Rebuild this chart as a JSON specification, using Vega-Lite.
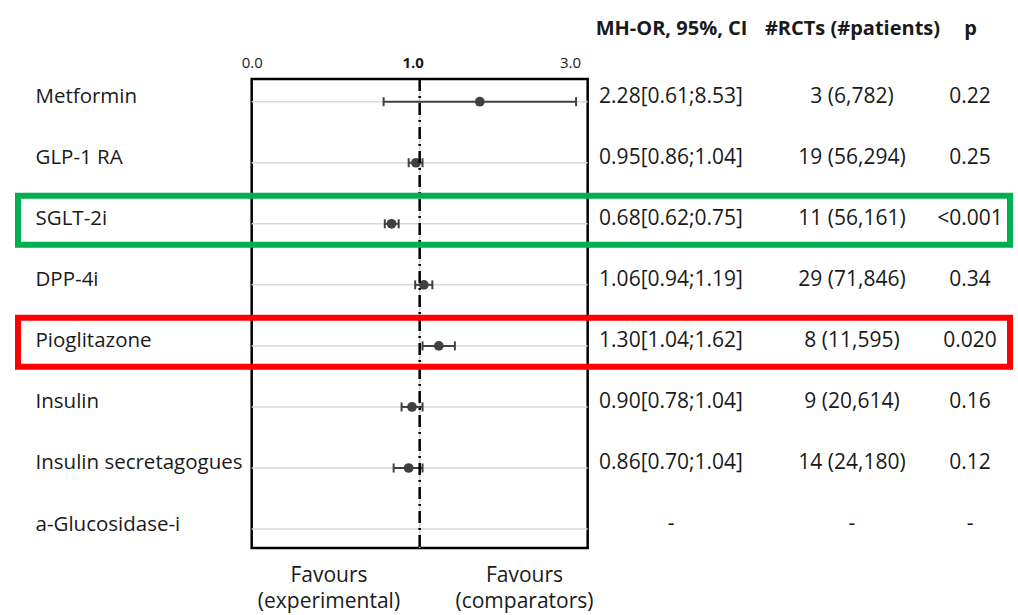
{
  "$schema": "https://vega.github.io/schema/vega-lite/v6.json",
  "width": 992,
  "height": 469,
  "autosize": {"type": "none"},
  "padding": {"left": 18, "top": 79, "right": 8, "bottom": 67},
  "background": "white",
  "config": {
    "font": "Open Sans",
    "view": {"stroke": null},
    "axis": {"labelFont": "Open Sans", "labelColor": "#1a1a1a", "grid": false, "domain": false, "ticks": false, "tickSize": 0, "title": null},
    "text": {"font": "Open Sans", "color": "#1a1a1a"}
  },
  "datasets": {
    "trials": [
      {"drug": "Metformin", "or": 2.28, "lo": 0.61, "hi": 8.53, "rcts": "3 (6,782)", "p": "0.22"},
      {"drug": "GLP-1 RA", "or": 0.95, "lo": 0.86, "hi": 1.04, "rcts": "19 (56,294)", "p": "0.25"},
      {"drug": "SGLT-2i", "or": 0.68, "lo": 0.62, "hi": 0.75, "rcts": "11 (56,161)", "p": "<0.001"},
      {"drug": "DPP-4i", "or": 1.06, "lo": 0.94, "hi": 1.19, "rcts": "29 (71,846)", "p": "0.34"},
      {"drug": "Pioglitazone", "or": 1.30, "lo": 1.04, "hi": 1.62, "rcts": "8 (11,595)", "p": "0.020"},
      {"drug": "Insulin", "or": 0.90, "lo": 0.78, "hi": 1.04, "rcts": "9 (20,614)", "p": "0.16"},
      {"drug": "Insulin secretagogues", "or": 0.86, "lo": 0.70, "hi": 1.04, "rcts": "14 (24,180)", "p": "0.12"},
      {"drug": "a-Glucosidase-i", "or": null, "lo": null, "hi": null, "rcts": "-", "p": "-"}
    ]
  },
  "resolve": {"scale": {"x": "independent"}},
  "layer": [
    {
      "data": {"name": "trials"},
      "layer": [
        {
          "data": {"values": [{}]},
          "mark": {"type": "rect", "filled": false, "stroke": "black", "strokeWidth": 2.5},
          "encoding": {
            "x": {
              "datum": 0.1, "type": "quantitative",
              "scale": {"type": "log", "domain": [0.004064, 3266], "nice": false},
              "axis": {
                "orient": "bottom",
                "title": null,
                "values": [0.2865, 4.177],
                "labelExpr": "datum.value < 1 ? ['Favours', '(experimental)'] : ['Favours', '(comparators)']",
                "labelPadding": 27,
                "labelBaseline": "middle",
                "labelLineHeight": 26,
                "labelFontSize": 21,
                "labelFlush": false,
                "labelOverlap": false,
                "labelBound": false,
                "labelLimit": 0
              }
            },
            "x2": {"datum": 10}
          }
        },
        {
          "mark": {"type": "rule", "color": "#d9d9d9", "strokeWidth": 1.5},
          "encoding": {
            "x": {"datum": 0.1, "type": "quantitative"},
            "x2": {"datum": 10},
            "y": {
              "field": "drug", "type": "nominal",
              "scale": {"type": "point", "domain": ["Metformin", "GLP-1 RA", "SGLT-2i", "DPP-4i", "Pioglitazone", "Insulin", "Insulin secretagogues", "a-Glucosidase-i"], "padding": 0.3411, "align": 0.545},
              "axis": {
                "orient": "left",
                "title": null,
                "labelAlign": "left",
                "labelBaseline": "middle",
                "labelPadding": -17,
                "labelOffset": -5,
                "labelFontSize": 20.5,
                "labelLimit": 0,
                "labelBound": false,
                "labelOverlap": false
              }
            }
          }
        },
        {
          "data": {"values": [{}]},
          "mark": {"type": "rule", "color": "#cfcfcf", "strokeWidth": 1.5},
          "encoding": {"x": {"datum": 1, "type": "quantitative"}}
        },
        {
          "mark": {"type": "rule", "color": "#404040", "strokeWidth": 2},
          "encoding": {
            "x": {"field": "lo", "type": "quantitative"},
            "x2": {"field": "hi"},
            "y": {"field": "drug", "type": "nominal"}
          }
        },
        {
          "mark": {"type": "tick", "color": "#404040", "size": 9, "thickness": 2, "opacity": 1},
          "encoding": {
            "x": {"field": "lo", "type": "quantitative"},
            "y": {"field": "drug", "type": "nominal"}
          }
        },
        {
          "mark": {"type": "tick", "color": "#404040", "size": 9, "thickness": 2, "opacity": 1},
          "encoding": {
            "x": {"field": "hi", "type": "quantitative"},
            "y": {"field": "drug", "type": "nominal"}
          }
        },
        {
          "mark": {"type": "circle", "color": "#404040", "size": 95, "opacity": 1},
          "encoding": {
            "x": {"field": "or", "type": "quantitative"},
            "y": {"field": "drug", "type": "nominal"}
          }
        }
      ]
    },
    {
      "data": {"values": [{}]},
      "mark": {"type": "rule", "color": "black", "strokeWidth": 2.5, "strokeDash": [12, 5, 2, 5]},
      "encoding": {
        "x": {
          "datum": 1, "type": "quantitative",
          "scale": {"type": "log", "domain": [0.004064, 3266], "nice": false},
          "axis": {
            "orient": "top",
            "title": null,
            "values": [0.1, 0.9085, 7.85],
            "labelExpr": "datum.value < 0.5 ? '0.0' : datum.value < 2 ? '1.0' : '3.0'",
            "labelFontWeight": {"condition": {"test": "datum.value > 0.5 && datum.value < 2", "value": "bold"}, "value": "normal"},
            "labelFontSize": 15,
            "labelPadding": 17,
            "labelBaseline": "middle",
            "labelFlush": false,
            "labelOverlap": false,
            "labelBound": false
          }
        }
      }
    },
    {
      "data": {"name": "trials"},
      "transform": [
        {"calculate": "datum.or == null ? '-' : format(datum.or, '.2f') + '[' + format(datum.lo, '.2f') + ';' + format(datum.hi, '.2f') + ']'", "as": "or_ci"}
      ],
      "mark": {"type": "text", "fontSize": 21, "baseline": "middle", "dy": -5},
      "encoding": {
        "x": {
          "datum": "MH-OR, 95%, CI", "type": "nominal",
          "scale": {"type": "point", "align": 0.6583, "padding": 0},
          "axis": {"orient": "top", "title": null, "labelAngle": 0, "labelPadding": 51, "labelBaseline": "middle", "labelFontSize": 20, "labelFontWeight": "bold", "labelLimit": 0}
        },
        "y": {"field": "drug", "type": "nominal"},
        "text": {"field": "or_ci"}
      }
    },
    {
      "data": {"name": "trials"},
      "mark": {"type": "text", "fontSize": 21, "baseline": "middle", "dy": -5},
      "encoding": {
        "x": {
          "datum": "#RCTs (#patients)", "type": "nominal",
          "scale": {"type": "point", "align": 0.8407, "padding": 0},
          "axis": {"orient": "top", "title": null, "labelAngle": 0, "labelPadding": 51, "labelBaseline": "middle", "labelFontSize": 20, "labelFontWeight": "bold", "labelLimit": 0}
        },
        "y": {"field": "drug", "type": "nominal"},
        "text": {"field": "rcts"}
      }
    },
    {
      "data": {"name": "trials"},
      "mark": {"type": "text", "fontSize": 21, "baseline": "middle", "dy": -5},
      "encoding": {
        "x": {
          "datum": "p", "type": "nominal",
          "scale": {"type": "point", "align": 0.9597, "padding": 0},
          "axis": {"orient": "top", "title": null, "labelAngle": 0, "labelPadding": 51, "labelBaseline": "middle", "labelFontSize": 20, "labelFontWeight": "bold", "labelLimit": 0}
        },
        "y": {"field": "drug", "type": "nominal"},
        "text": {"field": "p"}
      }
    },
    {
      "data": {"values": [
        {"drug": "SGLT-2i", "outcome": "lower risk"},
        {"drug": "Pioglitazone", "outcome": "higher risk"}
      ]},
      "mark": {"type": "rect", "filled": false, "strokeWidth": 6, "height": 49, "yOffset": -3.6},
      "encoding": {
        "y": {"field": "drug", "type": "nominal"},
        "color": {
          "field": "outcome", "type": "nominal",
          "scale": {"domain": ["lower risk", "higher risk"], "range": ["#00b050", "#ff0000"]},
          "legend": null
        }
      }
    }
  ]
}
